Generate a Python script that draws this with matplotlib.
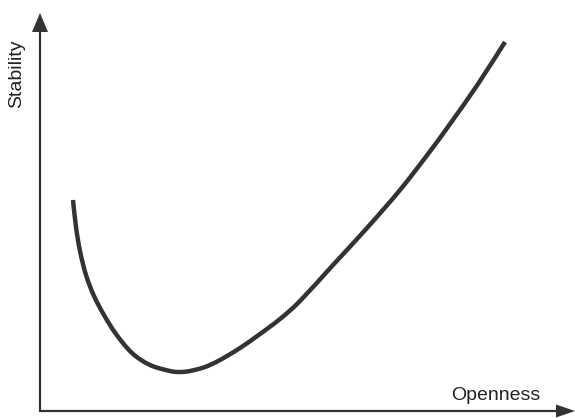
import matplotlib
matplotlib.use("Agg")
import matplotlib.pyplot as plt
import numpy as np
from matplotlib.path import Path
from matplotlib.patches import PathPatch

# Curve (arbitrary units: openness, stability)
openness = [33, 36, 40, 46, 54, 64, 76, 92, 110, 130, 140, 150, 165, 180, 200,
            220, 240, 260, 293, 327, 360, 388, 410, 438, 465]
stability = [211, 184, 160, 136, 115, 96, 77, 58, 46, 40, 39, 40, 44, 51, 63,
             77, 92, 110, 146, 183, 221, 257, 287, 327, 369]

x_label = "Openness"
y_label = "Stability"

ink = "#333333"

fig = plt.figure(figsize=(5.75, 4.18), dpi=100)
ax = fig.add_axes([0, 0, 1, 1])
ax.set_xlim(-40, 535)
ax.set_ylim(-7, 411)
ax.axis("off")

# axes with arrowheads
ax.arrow(0, 0, 0, 398, width=2.2, head_width=16, head_length=19,
         length_includes_head=True, color=ink, linewidth=0)
ax.arrow(-1, 0, 536, 0, width=2.2, head_width=13, head_length=19,
         length_includes_head=True, color=ink, linewidth=0)

# smooth curve through the read points (Catmull-Rom as cubic Bezier path)
pts = np.column_stack([openness, stability]).astype(float)
verts = [pts[0]]
codes = [Path.MOVETO]
n = len(pts)
for i in range(n - 1):
    p0 = pts[i - 1] if i > 0 else pts[i]
    p1 = pts[i]
    p2 = pts[i + 1]
    p3 = pts[i + 2] if i + 2 < n else pts[i + 1]
    c1 = p1 + (p2 - p0) / 6.0
    c2 = p2 - (p3 - p1) / 6.0
    verts += [c1, c2, p2]
    codes += [Path.CURVE4] * 3
patch = PathPatch(Path(verts, codes), facecolor="none", edgecolor=ink,
                  linewidth=3.2, capstyle="butt", joinstyle="round")
ax.add_patch(patch)

ax.text(456, 16, x_label, fontsize=14, family="Liberation Sans",
        color="#222222", ha="center", va="center")
ax.text(-23, 337, y_label, fontsize=14, family="Liberation Sans",
        color="#222222", ha="center", va="center", rotation=90)

fig.savefig("out.png", dpi=100)
